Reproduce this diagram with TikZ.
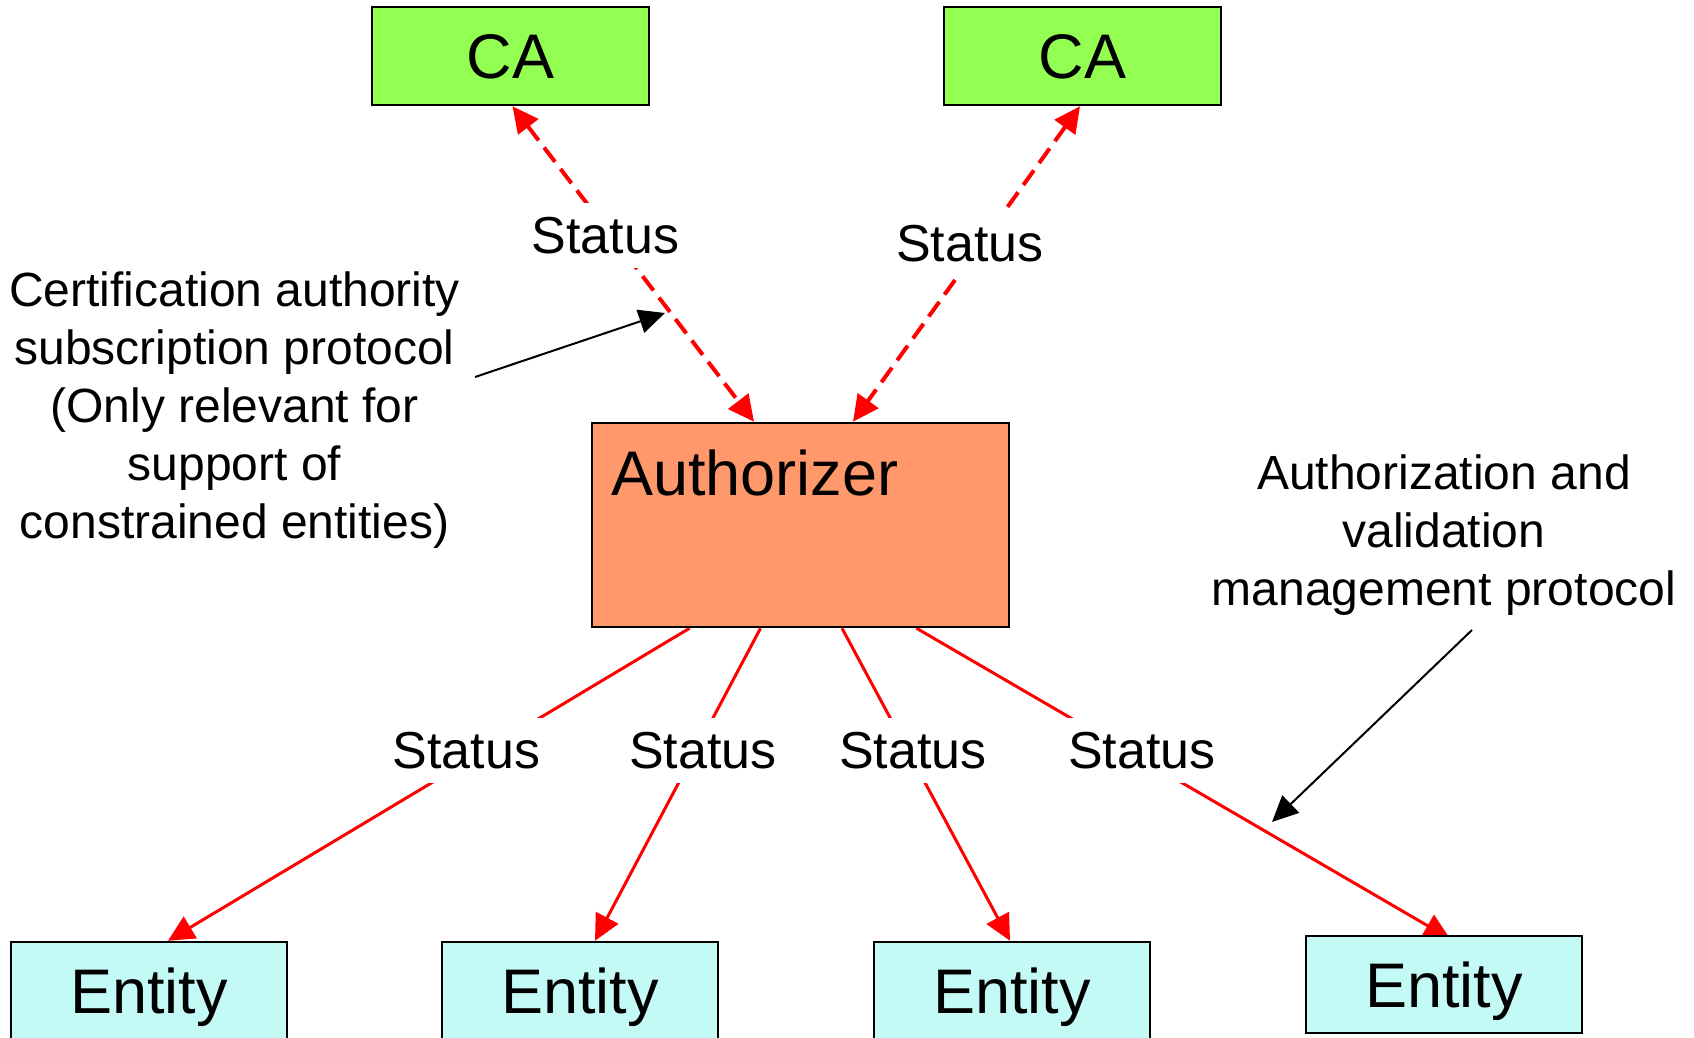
\documentclass[tikz,border=0pt]{standalone}
\usepackage{fontspec}
\setmainfont{Liberation Sans}
\usetikzlibrary{arrows.meta,calc}

\definecolor{cagreen}{RGB}{146,255,82}
\definecolor{authorange}{RGB}{255,152,106}
\definecolor{entcyan}{RGB}{196,250,246}

\pgfdeclarelayer{paper}
\pgfdeclarelayer{wires}
\pgfsetlayers{paper,wires,main}

\tikzset{
  box/.style={draw=black, line width=2.5pt, inner sep=0pt,
    text height=46pt, text depth=0pt, font=\fontsize{63}{76}\selectfont},
  cabox/.style={box, fill=cagreen, minimum width=277pt, minimum height=98pt},
  entbox/.style={box, fill=entcyan, minimum width=276pt, minimum height=97pt},
  authbox/.style={box, fill=authorange, minimum width=417pt, minimum height=204pt},
  statuslbl/.style={fill=white, inner xsep=8pt, inner ysep=14pt,
    font=\fontsize{52}{62}\selectfont, anchor=base},
  note/.style={align=center, inner sep=0pt,
    font=\fontsize{48}{58}\selectfont, anchor=north},
  redtip/.tip={Triangle[length=26pt,width=25pt]},
  statusline/.style={draw=red, line width=3pt, -redtip},
  subline/.style={draw=red, line width=4pt, dash pattern=on 18pt off 9pt,
    redtip-redtip},
  pointer/.style={draw=black, line width=2pt,
    -{Triangle[length=26pt,width=24pt]}},
}

\begin{document}
\begin{tikzpicture}[x=1pt, y=-1pt]
  \begin{pgfonlayer}{paper}
    \fill[white] (0,0) rectangle (1694,1038);
  \end{pgfonlayer}
  \useasboundingbox (0,0) rectangle (1694,1038);

  % certification authorities
  \node[cabox] (ca1) at (510.5,56) {CA};
  \node[cabox] (ca2) at (1082.5,56) {CA};

  % authorizer
  \node[authbox] (auth) at (800.5,525) {};
  \node[anchor=base west, inner sep=0pt, font=\fontsize{63}{76}\selectfont]
    (authlbl) at (611,495) {Authorizer};

  % entities
  \node[entbox] (e1) at (149,990.5) {Entity};
  \node[entbox] (e2) at (580,990.5) {Entity};
  \node[entbox] (e3) at (1012,990.5) {Entity};
  \node[entbox] (e4) at (1444,984.5) {Entity};

  % explanatory notes
  \node[note] (subnote) at (234.5,272)
    {Certification authority\\subscription protocol\\(Only relevant for\\support of\\constrained entities)};
  \node[note] (mgmtnote) at (1444,455)
    {Authorization and\\validation\\management protocol};

  \coordinate (p1s) at (475,377);
  \coordinate (p1e) at (665,313);
  \coordinate (p2s) at (1472,630);
  \coordinate (p2e) at (1272,822);

  % connectors, kept beneath the boxes
  \begin{pgfonlayer}{wires}
    \draw[subline] ([xshift=2pt]ca1.south) -- ([xshift=-46.5pt]auth.north);
    \draw[subline] ([xshift=-2.5pt]ca2.south) -- ([xshift=52.5pt]auth.north);

    \draw[statusline] ([xshift=-111pt]auth.south) -- ([xshift=19pt]e1.north);
    \draw[statusline] ([xshift=-40pt]auth.south) -- ([xshift=15pt]e2.north);
    \draw[statusline] ([xshift=41.5pt]auth.south) -- ([xshift=-2pt]e3.north);
    \draw[statusline] ([xshift=116pt]auth.south) -- ([xshift=6pt,yshift=-4pt]e4.north);

    \draw[pointer] (p1s) -- (p1e);
    \draw[pointer] (p2s) -- (p2e);
  \end{pgfonlayer}

  % status labels over the connectors
  \node[statuslbl] (s1) at (605.5,253) {Status};
  \node[statuslbl] (s2) at (970,261) {Status};
  \node[statuslbl] (s3) at (466.5,768) {Status};
  \node[statuslbl] (s4) at (703,768) {Status};
  \node[statuslbl] (s5) at (913,768) {Status};
  \node[statuslbl] (s6) at (1142,768) {Status};
\end{tikzpicture}
\end{document}
